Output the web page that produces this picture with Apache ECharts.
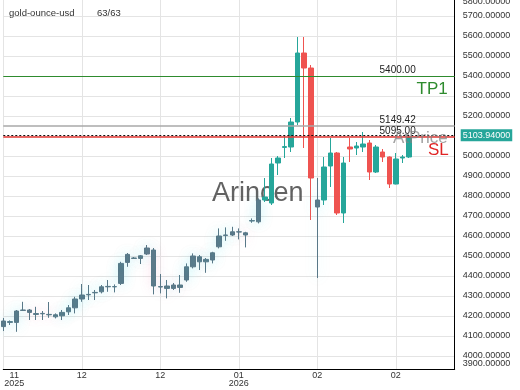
<!DOCTYPE html>
<html><head><meta charset="utf-8">
<script src="https://cdn.jsdelivr.net/npm/echarts@6/dist/echarts.min.js"></script>
<style>html,body{margin:0;padding:0;background:#fff}#c{width:520px;height:390px}</style>
</head><body><div id="c"></div>
<script>
const symbolName = 'gold-ounce-usd';
const countLabel = '63/63';
const watermark = 'Arincen';
// OHLC values (63 candles)
const opens  = [4147,4172,4168,4228,4230,4212,4213,4208,4206,4201,4221,4241,4285,4306,4316,4321,4346,4347,4363,4468,4490,4488,4510,4530,4345,4350,4338,4355,4380,4446,4496,4471,4480,4546,4603,4605,4621,4616,4675,4671,4780,4765,4965,5043,5045,5170,5515,5440,4745,4780,4950,5015,4715,5045,5040,5045,5065,4920,5020,4995,4860,4990,4995];
const closes = [4175,4168,4225,4230,4218,4208,4211,4206,4196,4218,4241,4285,4305,4308,4318,4346,4348,4346,4463,4508,4488,4501,4540,4350,4347,4338,4355,4343,4446,4500,4471,4483,4516,4600,4605,4621,4620,4605,4677,4780,4795,4960,4990,5047,5170,5515,5440,4890,4780,4945,5015,4715,4965,5035,5050,5060,4920,5045,4995,4860,4985,4995,5092];
const lows   = [4125,4155,4121,4225,4180,4180,4180,4191,4188,4180,4205,4213,4271,4280,4280,4313,4321,4318,4355,4446,4485,4460,4505,4308,4313,4288,4330,4316,4371,4438,4430,4416,4463,4538,4576,4600,4583,4543,4666,4663,4770,4755,4905,4990,5020,5155,5040,4680,4390,4755,4845,4705,4665,4970,5005,5020,4880,4915,4970,4840,4858,4965,4990];
const highs  = [4190,4178,4230,4271,4235,4246,4225,4270,4213,4230,4255,4296,4360,4355,4330,4355,4380,4358,4471,4515,4495,4505,4555,4540,4410,4380,4365,4405,4463,4513,4505,4490,4521,4638,4643,4646,4638,4621,4688,4788,4890,4990,5000,5105,5190,5595,5595,5455,4890,4995,5090,5020,4995,5090,5070,5120,5080,5055,5035,4998,5015,5005,5100];
const emptySlots = 7;
const xTickLabels = {0:'11\n2025', 12:'12', 24:'12', 36:'01\n2026', 48:'02', 60:'02'};
const yTickValues = [4000,4100,4200,4300,4400,4500,4600,4700,4800,4900,5000,5100,5200,5300,5400,5500,5600,5700];
const yEdgeTicks = [3900, 5800];
const tp1 = 5400, atPrice = 5149.42, stopLoss = 5095.00, currentPrice = 5103.94;
const fadeLimit = 4785;

const categories = [];
for (let i = 0; i < opens.length + emptySlots; i++) categories.push('c' + i);

const UP = '#26a69a', DOWN = '#ef5350';
const FUP = '#587888', FDOWN = '#85683f';
const font = "'Liberation Sans', Arial, sans-serif";
const HIDDEN = { color: 'rgba(0,0,0,0)', width: 0 };

const candleData = opens.map((o, i) => {
  const item = { value: [o, closes[i], lows[i], highs[i]] };
  if (i <= 52 && Math.max(o, closes[i]) <= fadeLimit) {
    const up = closes[i] >= o;
    item.itemStyle = {
      color: FUP, color0: FDOWN, borderColor: FUP, borderColor0: FDOWN,
      shadowBlur: 12,
      shadowColor: up ? 'rgba(90,225,235,0.35)' : 'rgba(250,160,200,0.3)'
    };
  }
  return item;
});

const chart = echarts.init(document.getElementById('c'), null, {renderer: 'canvas'});
const option = {
  animation: false,
  backgroundColor: '#fff',
  grid: { left: 3.27, right: 65.3, top: 0, bottom: 21, containLabel: false, outerBoundsMode: 'none' },
  xAxis: {
    type: 'category', data: categories, boundaryGap: false,
    axisLine: { lineStyle: { color: '#000', width: 1 } },
    axisTick: { show: false },
    axisLabel: {
      interval: 11, fontSize: 9, color: '#333', margin: 3, lineHeight: 8, fontFamily: font,
      formatter: (v, i) => {
        const t = xTickLabels[i];
        if (t === undefined) return '';
        if (i === 0) return t.split('\n').map(s => '{f|' + s + '}').join('\n');
        return t;
      },
      rich: { f: { padding: [0, 0, 0, 22], fontSize: 9, lineHeight: 8, color: '#333', fontFamily: font } }
    },
    splitLine: { show: true, interval: 11, lineStyle: { color: '#e4e4e4', width: 1 } }
  },
  yAxis: {
    type: 'value', position: 'right', min: 3935, max: 5780, scale: true,
    axisLine: { show: true, lineStyle: { color: '#000', width: 1 } },
    axisTick: { show: false, customValues: yTickValues },
    axisLabel: { customValues: yTickValues, formatter: v => Number(v).toFixed(5), fontSize: 9, color: '#333', margin: 8, fontFamily: font },
    splitLine: { show: true, lineStyle: { color: '#e4e4e4', width: 1 } }
  },
  series: [{
    type: 'candlestick', data: candleData, barWidth: 5, z: 2,
    itemStyle: { color: UP, color0: DOWN, borderColor: UP, borderColor0: DOWN, borderWidth: 1 },
    markLine: {
      symbol: ['none', 'none'], silent: true, animation: false, precision: 2,
      data: [
        { yAxis: tp1, lineStyle: { color: '#2e8b2e', width: 1, type: 'solid' },
          label: { position: 'insideEndTop', formatter: tp1.toFixed(2), color: '#222', fontSize: 10, fontFamily: font, distance: [39, 1] } },
        { yAxis: tp1, lineStyle: HIDDEN,
          label: { show: true, position: 'insideEndBottom', formatter: 'TP1', color: '#2e8b2e', fontSize: 17, fontFamily: font, distance: [7, 5] } },
        { yAxis: atPrice, lineStyle: { color: '#a8a8a8', width: 1.5, type: 'solid' },
          label: { position: 'insideEndTop', formatter: atPrice.toFixed(2), color: '#222', fontSize: 10, fontFamily: font, distance: [39, 1] } },
        { yAxis: stopLoss, lineStyle: { color: '#e53935', width: 1.5, type: 'solid' },
          label: { position: 'insideEndTop', formatter: stopLoss.toFixed(2), color: '#222', fontSize: 10, fontFamily: font, distance: [39, 1] } },
        { yAxis: atPrice, lineStyle: HIDDEN,
          label: { show: true, position: 'insideEndBottom', formatter: 'AtPrice', color: 'rgba(130,130,130,0.75)', fontSize: 17, fontFamily: font, distance: [7, 4] } },
        { yAxis: stopLoss, lineStyle: HIDDEN,
          label: { show: true, position: 'insideEndBottom', formatter: 'SL', color: '#e02424', fontSize: 17, fontFamily: font, distance: [6, 5] } },
        { yAxis: currentPrice, lineStyle: { color: '#111', width: 1, type: [2, 2] },
          label: { position: 'end', formatter: currentPrice.toFixed(5), color: '#fff', backgroundColor: '#26a69a', fontSize: 9, fontFamily: font, padding: [2, 2, 1, 2], distance: 6 } }
      ]
    }
  }]
};
chart.setOption(option);

const edgeTexts = yEdgeTicks.map(v => {
  let y = chart.convertToPixel({ yAxisIndex: 0 }, v);
  y = Math.max(2, Math.min(364, y));
  return { type: 'text', x: 462.7, y: y, z: 5,
    style: { text: v.toFixed(5), fill: '#333', fontSize: 9, fontFamily: font, textVerticalAlign: 'middle' } };
});
chart.setOption({
  graphic: [
    { type: 'text', x: 9, y: 13, z: 5, style: { text: symbolName, fill: '#333', fontSize: 9.5, fontFamily: font, textVerticalAlign: 'middle' } },
    { type: 'text', x: 97, y: 13, z: 5, style: { text: countLabel, fill: '#333', fontSize: 9.5, fontFamily: font, textVerticalAlign: 'middle' } },
    { type: 'text', x: 212, y: 194, z: 1, style: { text: watermark, fill: 'rgba(70,70,70,0.85)', fontSize: 27, fontFamily: font, textVerticalAlign: 'middle' } }
  ].concat(edgeTexts)
});
</script></body></html>
